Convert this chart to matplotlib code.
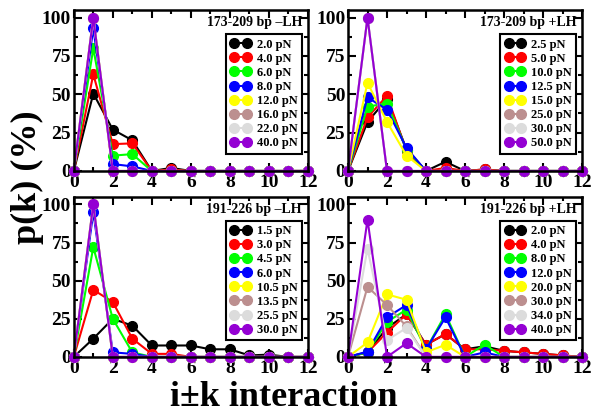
import matplotlib
matplotlib.use("Agg")
import matplotlib.pyplot as plt
from matplotlib.ticker import MultipleLocator

plt.rcParams['font.family'] = ['Liberation Serif', 'DejaVu Serif']
plt.rcParams['font.weight'] = 'bold'

# k = 0..12
k = list(range(13))

# grace palette: black, red, green, blue, yellow, brown, grey, violet
colors = ["#000000", "#ff0000", "#00ff00", "#0000ff",
          "#ffff00", "#bc8f8f", "#dcdcdc", "#9400d3"]

# 173-209 bp -LH
titles_tl = "173-209 bp \u2013LH"
forces_tl = ["2.0 pN", "4.0 pN", "6.0 pN", "8.0 pN", "12.0 pN", "16.0 pN", "22.0 pN", "40.0 pN"]
vals_tl = [
    [0, 50.5, 27, 20, 0, 2, 0, 0, 0, 0, 0, 0, 0],
    [0, 63, 17.5, 18, 0, 1, 0, 0, 0, 0, 0, 0, 0],
    [0, 80, 10, 11, 0, 0, 0, 0, 0, 0, 0, 0, 0],
    [0, 93, 4.5, 3, 0, 0, 0, 0, 0, 0, 0, 0, 0],
    [0, 100, 0, 0, 0, 0, 0, 0, 0, 0, 0, 0, 0],
    [0, 100, 0, 0, 0, 0, 0, 0, 0, 0, 0, 0, 0],
    [0, 100, 0, 0, 0, 0, 0, 0, 0, 0, 0, 0, 0],
    [0, 100, 0, 0, 0, 0, 0, 0, 0, 0, 0, 0, 0],
]

# 173-209 bp +LH
titles_tr = "173-209 bp +LH"
forces_tr = ["2.5 pN", "5.0 pN", "10.0 pN", "12.5 pN", "15.0 pN", "25.0 pN", "30.0 pN", "50.0 pN"]
vals_tr = [
    [0, 32, 47, 14, 0, 6, 0, 1, 0, 0, 0, 0, 0],
    [0, 35, 49, 13, 0, 2, 0, 1, 0, 0, 0, 0, 0],
    [0, 42, 44, 14, 0, 0, 0, 0, 0, 0, 0, 0, 0],
    [0, 48, 40, 15, 0, 0, 0, 0, 0, 0, 0, 0, 0],
    [0, 57.5, 32, 10, 0, 0, 0, 0, 0, 0, 0, 0, 0],
    [0, 100, 0, 0, 0, 0, 0, 0, 0, 0, 0, 0, 0],
    [0, 100, 0, 0, 0, 0, 0, 0, 0, 0, 0, 0, 0],
    [0, 100, 0, 0, 0, 0, 0, 0, 0, 0, 0, 0, 0],
]

# 191-226 bp -LH
titles_bl = "191-226 bp \u2013LH"
forces_bl = ["1.5 pN", "3.0 pN", "4.5 pN", "6.0 pN", "10.5 pN", "13.5 pN", "25.5 pN", "30.0 pN"]
vals_bl = [
    [0, 12, 25, 20.5, 7.5, 7.5, 7.5, 5, 5, 1, 1.5, 0, 0],
    [0, 44, 36, 12, 2, 2, 0, 0, 0, 0, 0, 0, 0],
    [0, 72, 25, 3, 0, 0, 0, 0, 0, 0, 0, 0, 0],
    [0, 95, 3, 2, 0, 0, 0, 0, 0, 0, 0, 0, 0],
    [0, 100, 0, 0, 0, 0, 0, 0, 0, 0, 0, 0, 0],
    [0, 100, 0, 0, 0, 0, 0, 0, 0, 0, 0, 0, 0],
    [0, 100, 0, 0, 0, 0, 0, 0, 0, 0, 0, 0, 0],
    [0, 100, 0, 0, 0, 0, 0, 0, 0, 0, 0, 0, 0],
]

# 191-226 bp +LH
titles_br = "191-226 bp +LH"
forces_br = ["2.0 pN", "4.0 pN", "8.0 pN", "12.0 pN", "20.0 pN", "30.0 pN", "34.0 pN", "40.0 pN"]
vals_br = [
    [0, 3, 19, 28, 8, 15, 5, 7, 4, 3, 2, 1, 0],
    [0, 3, 16, 28, 8, 15, 5, 5, 4, 3, 2, 1, 0],
    [0, 3, 23, 31, 5, 28, 0, 8, 0, 0, 0, 0, 0],
    [0, 3.5, 26, 34, 5, 26, 0, 3, 0, 0, 0, 0, 0],
    [0, 9.5, 41, 37.5, 3, 8, 0, 0, 0, 0, 0, 0, 0],
    [0, 46, 34, 20, 0, 0, 0, 0, 0, 0, 0, 0, 0],
    [0, 71, 11, 19, 0, 0, 0, 0, 0, 0, 0, 0, 0],
    [0, 90, 0, 9, 0, 0, 0, 0, 0, 0, 0, 0, 0],
]

panels = [
    (titles_tl, forces_tl, vals_tl, [0.123, 0.589, 0.39, 0.387]),
    (titles_tr, forces_tr, vals_tr, [0.580, 0.589, 0.39, 0.387]),
    (titles_bl, forces_bl, vals_bl, [0.123, 0.142, 0.39, 0.385]),
    (titles_br, forces_br, vals_br, [0.580, 0.142, 0.39, 0.385]),
]

fig = plt.figure(figsize=(6, 4.16), dpi=100)

for title, forces, vals, pos in panels:
    ax = fig.add_axes(pos)
    for series, lab, col in zip(vals, forces, colors):
        ax.plot(k, series, "-o", color=col, lw=1.5, ms=7, label=lab, clip_on=False)
    ax.set_xlim(0, 12)
    ax.set_ylim(0, 105)
    ax.xaxis.set_major_locator(MultipleLocator(2))
    ax.xaxis.set_minor_locator(MultipleLocator(1))
    ax.yaxis.set_major_locator(MultipleLocator(25))
    ax.yaxis.set_minor_locator(MultipleLocator(12.5))
    ax.tick_params(which="both", direction="in", top=True, right=True, width=1.5,
                   labelsize=14, pad=2)
    ax.tick_params(which="major", length=6)
    ax.tick_params(which="minor", length=3)
    for lbl in ax.get_xticklabels() + ax.get_yticklabels():
        lbl.set_fontweight("bold")
    for sp in ax.spines.values():
        sp.set_linewidth(1.8)
    ax.text(0.975, 0.96, title, transform=ax.transAxes, ha="right", va="top",
            fontsize=10, fontweight="bold")
    leg = ax.legend(loc="upper right", bbox_to_anchor=(0.975, 0.85), numpoints=2,
                    fontsize=9, frameon=True, fancybox=False, framealpha=1,
                    handlelength=1.6, handletextpad=0.5, labelspacing=0.17,
                    borderpad=0.35, borderaxespad=0)
    leg.get_frame().set_edgecolor("black")
    leg.get_frame().set_linewidth(1.5)
    for t in leg.get_texts():
        t.set_fontweight("bold")

fig.text(0.473, 0.005, "i\u00b1k interaction", ha="center", va="bottom",
         fontsize=26, fontweight="bold")
fig.text(0.045, 0.575, "p(k) (%)", ha="center", va="center", rotation=90,
         fontsize=26, fontweight="bold")

fig.savefig("out.png", dpi=100)
